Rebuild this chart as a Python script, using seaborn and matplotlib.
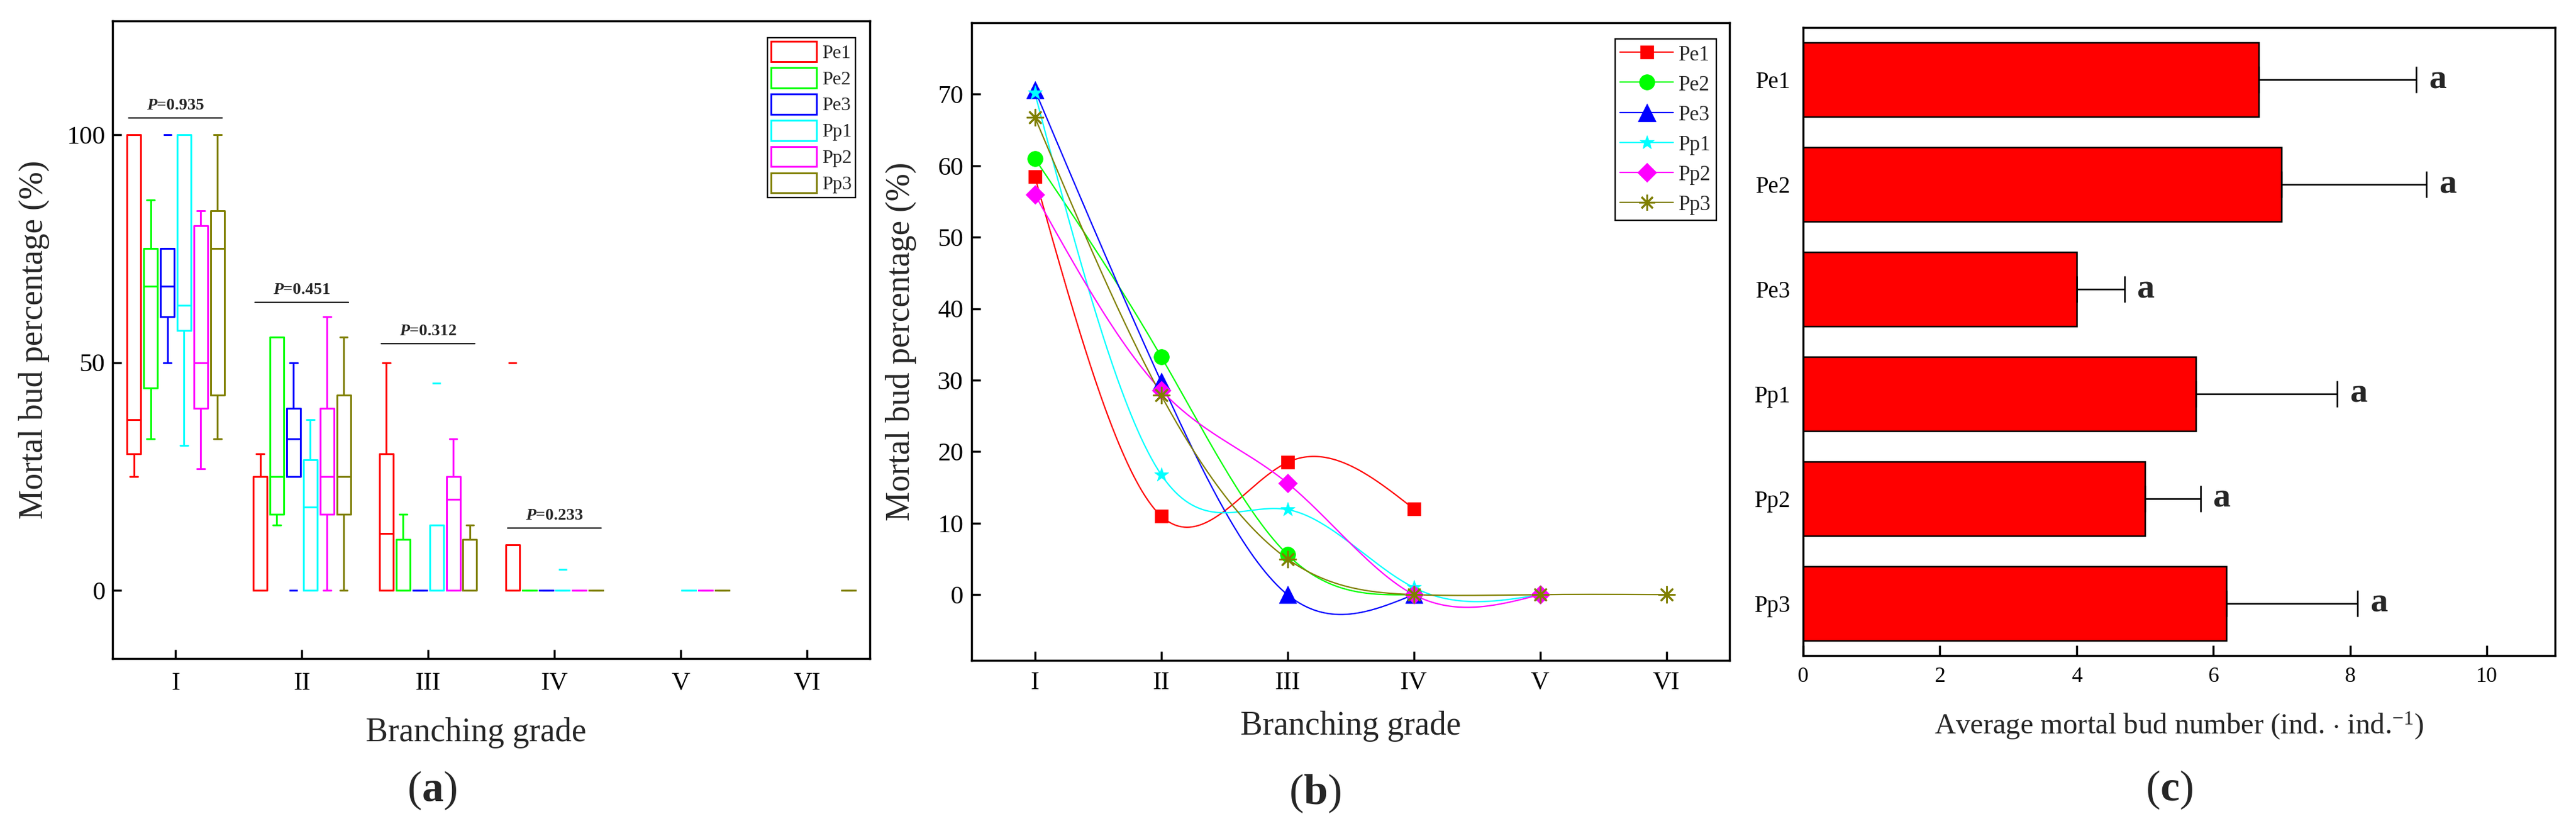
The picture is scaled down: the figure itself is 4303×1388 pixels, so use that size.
import numpy as np
import matplotlib
matplotlib.use('Agg')
import matplotlib.pyplot as plt
import seaborn as sns
from matplotlib.patches import Patch
from matplotlib.lines import Line2D

# ---- shared categories ----
grades = ['I', 'II', 'III', 'IV', 'V', 'VI']
series = ['Pe1', 'Pe2', 'Pe3', 'Pp1', 'Pp2', 'Pp3']
colors = ['#FF0000', '#00FF00', '#0000FF', '#00FFFF', '#FF00FF', '#808000']

# ---- panel (a): box statistics per grade (whislo, q1, med, q3, whishi), None = no data ----
box_pe1 = [(25, 30, 37.5, 100, 100), (0, 0, 0, 25, 30), (0, 0, 12.5, 30, 50), (0, 0, 0, 10, 10), None, None]
box_pe2 = [(33.3, 44.4, 66.7, 75, 85.7), (14.3, 16.7, 25, 55.6, 55.6), (0, 0, 0, 11.1, 16.7), (0, 0, 0, 0, 0), None, None]
box_pe3 = [(50, 60, 66.7, 75, 75), (25, 25, 33.3, 40, 50), (0, 0, 0, 0, 0), (0, 0, 0, 0, 0), None, None]
box_pp1 = [(31.8, 57.1, 62.5, 100, 100), (0, 0, 18.2, 28.6, 37.5), (0, 0, 0, 14.3, 14.3), (0, 0, 0, 0, 0), (0, 0, 0, 0, 0), None]
box_pp2 = [(26.7, 40, 50, 80, 83.3), (0, 16.7, 25, 40, 60), (0, 0, 20, 25, 33.3), (0, 0, 0, 0, 0), (0, 0, 0, 0, 0), None]
box_pp3 = [(33.3, 42.9, 75, 83.3, 100), (0, 16.7, 25, 42.9, 55.6), (0, 0, 0, 11.1, 14.3), (0, 0, 0, 0, 0), (0, 0, 0, 0, 0), (0, 0, 0, 0, 0)]
# outliers per grade
out_pe1 = [[], [], [], [50], [], []]
out_pe2 = [[], [], [], [], [], []]
out_pe3 = [[100], [0], [], [], [], []]
out_pp1 = [[], [], [45.5], [4.6], [], []]
out_pp2 = [[], [], [], [], [], []]
out_pp3 = [[], [], [], [], [], []]
p_values = ['0.935', '0.451', '0.312', '0.233']
p_line_y = [103.7, 63.2, 54.1, 13.7]

# ---- panel (b): mortal bud percentage per grade ----
line_pe1 = [58.5, 11.0, 18.5, 12.0]
line_pe2 = [61.0, 33.3, 5.6, 0.0]
line_pe3 = [70.6, 29.8, 0.0, 0.0]
line_pp1 = [70.2, 16.8, 11.9, 1.0, 0.0]
line_pp2 = [56.0, 28.6, 15.6, 0.0, 0.0]
line_pp3 = [66.8, 27.9, 5.0, 0.0, 0.0, 0.0]

# ---- panel (c): average mortal bud number ----
bud_mean = [6.66, 7.00, 4.00, 5.74, 5.00, 6.19]
bud_err = [2.31, 2.12, 0.70, 2.07, 0.81, 1.92]
bud_letters = ['a', 'a', 'a', 'a', 'a', 'a']


def spline_curve(xs, ys, num=300):
    # natural cubic spline through the data points, for the smooth connecting line
    xs = np.asarray(xs, float)
    ys = np.asarray(ys, float)
    n = len(xs)
    h = np.diff(xs)
    A = np.zeros((n, n))
    rhs = np.zeros(n)
    A[0, 0] = A[-1, -1] = 1
    for i in range(1, n - 1):
        A[i, i - 1] = h[i - 1]
        A[i, i] = 2 * (h[i - 1] + h[i])
        A[i, i + 1] = h[i]
        rhs[i] = 6 * ((ys[i + 1] - ys[i]) / h[i] - (ys[i] - ys[i - 1]) / h[i - 1])
    m = np.linalg.solve(A, rhs)
    t = np.linspace(xs[0], xs[-1], num)
    k = np.clip(np.searchsorted(xs, t) - 1, 0, n - 2)
    x0, x1 = xs[k], xs[k + 1]
    hk = x1 - x0
    a = (x1 - t) / hk
    b = (t - x0) / hk
    yt = a * ys[k] + b * ys[k + 1] + ((a ** 3 - a) * m[k] + (b ** 3 - b) * m[k + 1]) * hk ** 2 / 6
    return t, yt


sns.set_theme(style='ticks')
plt.rcParams['font.family'] = ['Liberation Serif', 'DejaVu Serif']
plt.rcParams['mathtext.fontset'] = 'custom'
plt.rcParams['mathtext.rm'] = 'Liberation Serif'
plt.rcParams['mathtext.it'] = 'Liberation Serif:italic'
plt.rcParams['mathtext.bf'] = 'Liberation Serif:bold'
plt.rcParams['mathtext.bfit'] = 'Liberation Serif:italic:bold'
plt.rcParams['axes.linewidth'] = 2.5
plt.rcParams['axes.edgecolor'] = 'black'

fig = plt.figure(figsize=(43.03, 13.88), dpi=100)
ax_a = fig.add_axes([0.0437, 0.2075, 0.2940, 0.7673])
ax_b = fig.add_axes([0.3772, 0.2053, 0.2942, 0.7673])
ax_c = fig.add_axes([0.7000, 0.2111, 0.2919, 0.7558])

# ================= (a) box plots =================
boxes = [box_pe1, box_pe2, box_pe3, box_pp1, box_pp2, box_pp3]
outs = [out_pe1, out_pe2, out_pe3, out_pp1, out_pp2, out_pp3]
step, bw = 0.1324, 0.109
for s, (bx, ou, c) in enumerate(zip(boxes, outs, colors)):
    stats, pos = [], []
    for g, st in enumerate(bx):
        if st is None:
            continue
        lo, q1, med, q3, hi = st
        stats.append(dict(whislo=lo, q1=q1, med=med, q3=q3, whishi=hi, fliers=ou[g]))
        pos.append(g + 1 + (s - 2.5) * step)
    lp = dict(color=c, linewidth=2.2)
    ax_a.bxp(stats, positions=pos, widths=bw, capwidths=bw * 0.55,
             boxprops=lp, whiskerprops=lp, capprops=lp, medianprops=lp,
             flierprops=dict(marker='_', markeredgecolor=c, markersize=9.5, markeredgewidth=2.2),
             showfliers=True, manage_ticks=False)

for g, (pv, py) in enumerate(zip(p_values, p_line_y)):
    ax_a.plot([g + 1 - 0.37, g + 1 + 0.37], [py, py], color='black', lw=1.6)
    ax_a.annotate(r'$\mathbfit{P}$=' + pv, xy=(g + 1, py), xytext=(0, 10), textcoords='offset points',
                  ha='center', va='baseline', fontsize=20, fontweight='bold')

ax_a.set_xlim(0.5, 6.5)
ax_a.set_ylim(-15, 125)
ax_a.set_xticks(range(1, 7))
ax_a.set_xticklabels(grades)
ax_a.set_yticks([0, 50, 100])
ax_a.tick_params(direction='in', length=11, width=2.5, labelsize=31, colors='black')
ax_a.tick_params(axis='x', pad=16)
ax_a.tick_params(axis='y', pad=9)
ax_a.set_xlabel('Branching grade', fontsize=40)
ax_a.set_ylabel('Mortal bud percentage (%)', fontsize=40)
ax_a.xaxis.set_label_coords(0.48, -0.092)
ax_a.yaxis.set_label_coords(-0.083, 0.5)
ax_a.grid(False)
leg_a = ax_a.legend([Patch(facecolor='none', edgecolor=c, linewidth=2.2) for c in colors], series,
                    loc='upper right', bbox_to_anchor=(0.981, 0.974), fontsize=23, frameon=True,
                    fancybox=False, framealpha=1, edgecolor='black', handlelength=2.38, handleheight=1.25,
                    labelspacing=0.29, handletextpad=0.28, borderpad=0.2, borderaxespad=0)
leg_a.get_frame().set_linewidth(1.7)

# ================= (b) spline lines =================
lines = [line_pe1, line_pe2, line_pe3, line_pp1, line_pp2, line_pp3]
markers = ['s', 'o', '^', '*', 'D', (8, 2, 0)]
msizes = [16.5, 18.5, 21, 18, 16, 19]
handles_b = []
for vals, c, mk, ms in zip(lines, colors, markers, msizes):
    xs = np.arange(1, len(vals) + 1)
    t, yt = spline_curve(xs, vals)
    sns.lineplot(x=t, y=yt, color=c, linewidth=1.6, ax=ax_b, sort=False, estimator=None)
    if mk == (8, 2, 0):
        sns.scatterplot(x=xs, y=vals, marker=mk, s=ms ** 2, color=c, linewidth=2.2, ax=ax_b, zorder=3)
    else:
        sns.scatterplot(x=xs, y=vals, marker=mk, s=ms ** 2, color=c, edgecolor=c, linewidth=0.5, ax=ax_b, zorder=3)
    handles_b.append(Line2D([0], [0], color=c, lw=1.6, marker=mk, markersize=ms,
                            markerfacecolor=c, markeredgecolor=c, markeredgewidth=2.2 if mk == (8, 2, 0) else 0.5))

ax_b.set_xlim(0.5, 6.5)
ax_b.set_ylim(-9.2, 80)
ax_b.set_xticks(range(1, 7))
ax_b.set_xticklabels(grades)
ax_b.set_yticks(range(0, 71, 10))
ax_b.tick_params(direction='in', length=11, width=2.5, labelsize=31, colors='black')
ax_b.tick_params(axis='x', pad=13)
ax_b.tick_params(axis='y', pad=10)
ax_b.set_xlabel('Branching grade', fontsize=40)
ax_b.set_ylabel('Mortal bud percentage (%)', fontsize=40)
ax_b.xaxis.set_label_coords(0.5, -0.079)
ax_b.yaxis.set_label_coords(-0.0727, 0.5)
ax_b.grid(False)
leg_b = ax_b.legend(handles_b, series, loc='upper right', bbox_to_anchor=(0.9826, 0.9746), fontsize=25,
                    frameon=True, fancybox=False, framealpha=1, edgecolor='black', handlelength=2.56,
                    handleheight=1.0, labelspacing=0.42, handletextpad=0.26, borderpad=0.25, borderaxespad=0)
leg_b.get_frame().set_linewidth(1.7)

# ================= (c) horizontal bars =================
sns.barplot(x=bud_mean, y=series, orient='h', color='#FF0000', saturation=1, edgecolor='black',
            linewidth=1.8, width=0.71, ax=ax_c)
ax_c.errorbar(bud_mean, np.arange(len(series)), xerr=[np.zeros(len(bud_err)), bud_err], fmt='none',
              ecolor='black', elinewidth=1.9, capsize=16, capthick=1.9, zorder=3)
for i, (m, e, lt) in enumerate(zip(bud_mean, bud_err, bud_letters)):
    ax_c.annotate(lt, xy=(m + e, i), xytext=(15, 0), textcoords='offset points',
                  ha='left', va='center', fontsize=42, fontweight='bold')
ax_c.set_xlim(0, 11)
ax_c.set_ylim(5.5, -0.5)
ax_c.set_xticks(range(0, 11, 2))
ax_c.tick_params(axis='x', direction='in', length=12, width=2.5, labelsize=26, pad=14, colors='black')
ax_c.tick_params(axis='y', length=0, labelsize=28, pad=15, colors='black')
ax_c.set_xlabel(r'Average mortal bud number (ind. $\cdot$ ind.$^{-1}$)', fontsize=35)
ax_c.set_ylabel('')
ax_c.xaxis.set_label_coords(0.5, -0.0868)
ax_c.grid(False)
for ax in (ax_a, ax_b, ax_c):
    for sp in ax.spines.values():
        sp.set_visible(True)
        sp.set_linewidth(2.5)
        sp.set_color('black')

# panel letters
fig.text(722 / 4303, 1 - 1320 / 1388, r'($\mathbf{a}$)', ha='center', va='center', fontsize=52)
fig.text(2197 / 4303, 1 - 1325 / 1388, r'($\mathbf{b}$)', ha='center', va='center', fontsize=52)
fig.text(3624 / 4303, 1 - 1319 / 1388, r'($\mathbf{c}$)', ha='center', va='center', fontsize=52)

fig.savefig('out.png', dpi=100)
